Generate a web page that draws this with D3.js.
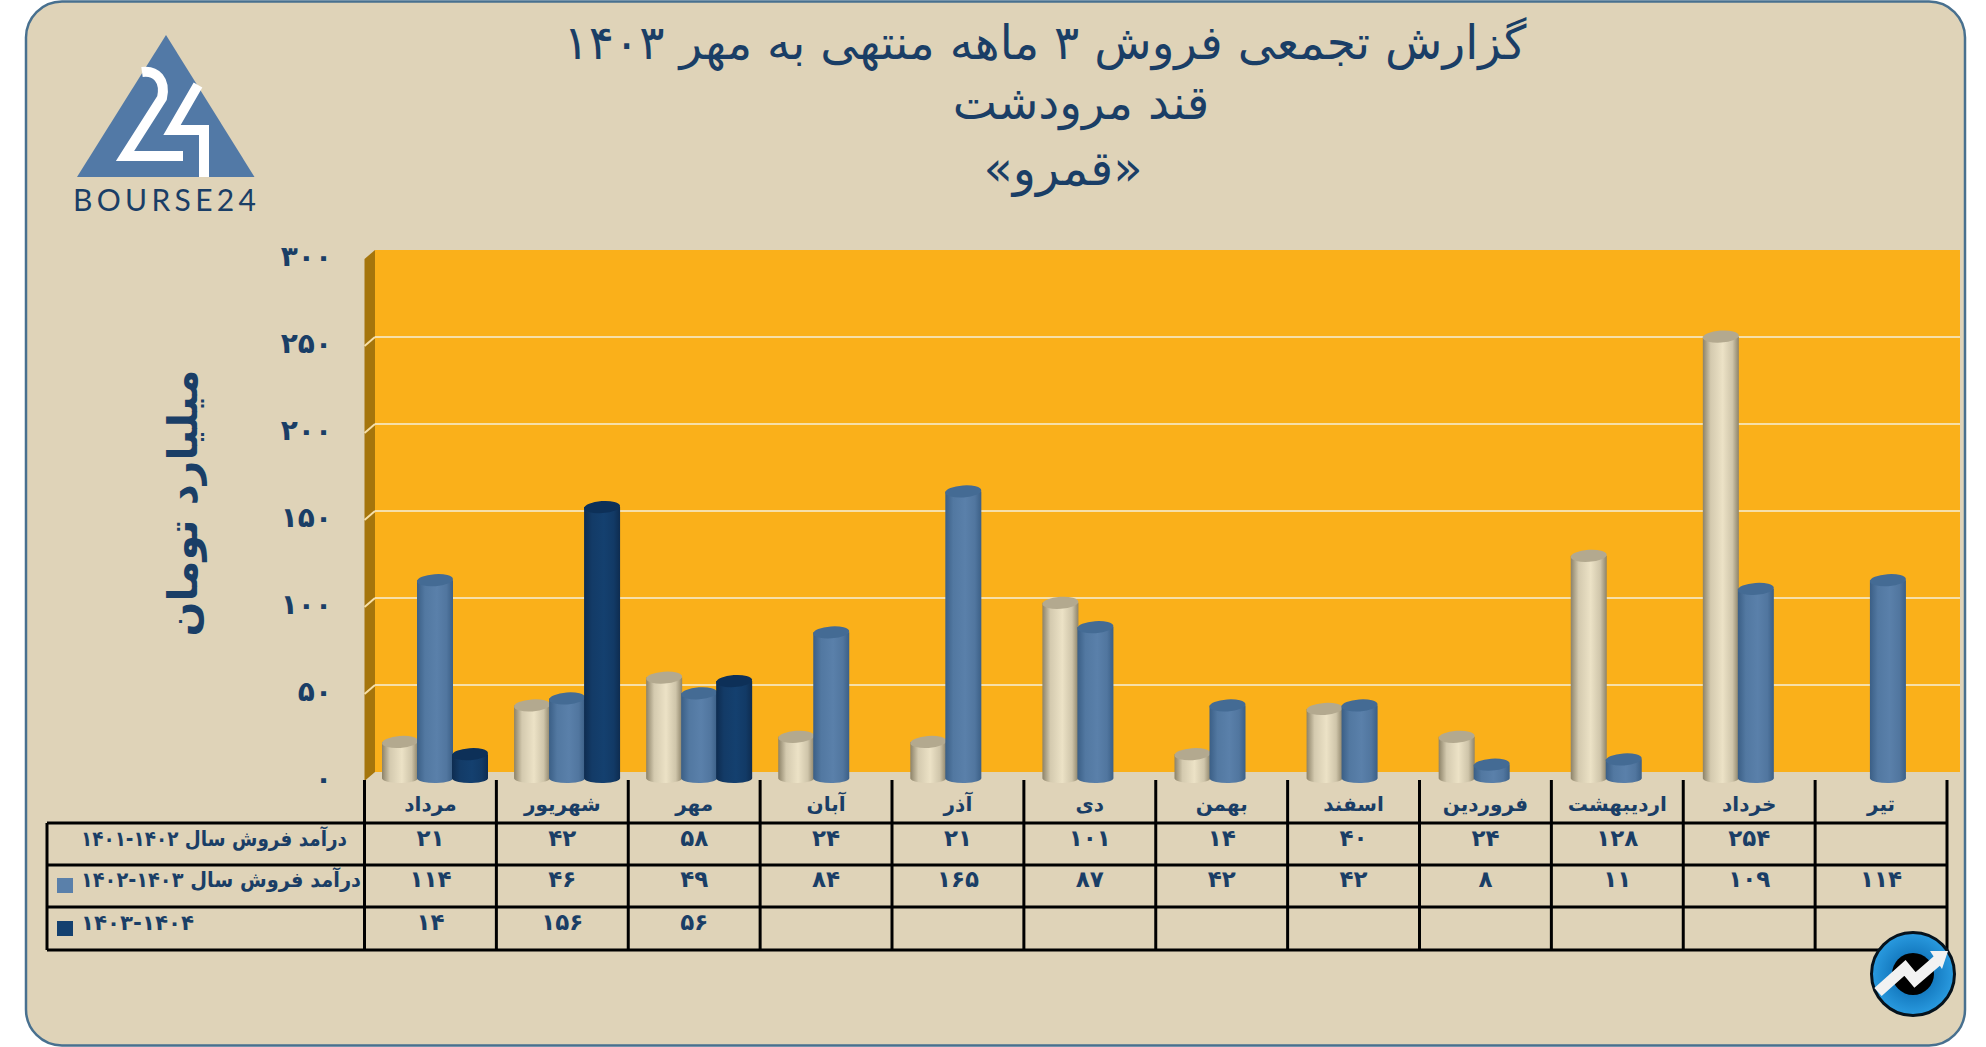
<!DOCTYPE html>
<html lang="fa">
<head>
<meta charset="utf-8">
<title>قمرو</title>
<script src="https://cdn.jsdelivr.net/npm/d3@7"></script>
<style>
  html, body { margin: 0; padding: 0; background: #fff; }
  svg { display: block; }
  text { font-family: "DejaVu Sans", sans-serif; fill: #1a3e66; }
  .fa { direction: rtl; unicode-bidi: plaintext; }
</style>
</head>
<body>
<svg id="chart" width="1986" height="1047"></svg>
<script>
// data
var months = ["مرداد", "شهریور", "مهر", "آبان", "آذر", "دی", "بهمن", "اسفند", "فروردین", "اردیبهشت", "خرداد", "تیر"];
var sales1401 = [21, 42, 58, 24, 21, 101, 14, 40, 24, 128, 254, null];
var sales1402 = [114, 46, 49, 84, 165, 87, 42, 42, 8, 11, 109, 114];
var sales1403 = [14, 156, 56, null, null, null, null, null, null, null, null, null];
// the isolates keep the year range reading left to right after persian words
var rowLabels = ["درآمد فروش سال \u2066۱۴۰۱-۱۴۰۲\u2069", "درآمد فروش سال \u2066۱۴۰۲-۱۴۰۳\u2069", "\u2066۱۴۰۳-۱۴۰۴\u2069"];
var yTicks = [0, 50, 100, 150, 200, 250, 300];
var titleLines = ["گزارش تجمعی فروش ۳ ماهه منتهی به مهر ۱۴۰۳", "قند مرودشت", "«قمرو»"];
var yTitle = "میلیارد تومان";

var series = [sales1401, sales1402, sales1403];
var seriesColors = [
  { edge: "#8c8268", mid: "#ece2c6", top: "#b3a98f" },
  { edge: "#3b5f86", mid: "#5a80aa", top: "#446b94" },
  { edge: "#0e2c50", mid: "#14406f", top: "#0d3058" }
];

function toFa(n) {
  return String(n).replace(/\d/g, function (d) { return "۰۱۲۳۴۵۶۷۸۹"[d]; });
}

var svg = d3.select("#chart");
var defs = svg.append("defs");

seriesColors.forEach(function (c, i) {
  var g = defs.append("linearGradient").attr("id", "cyl" + i);
  g.append("stop").attr("offset", "0%").attr("stop-color", c.edge);
  g.append("stop").attr("offset", "22%").attr("stop-color", d3.interpolateRgb(c.edge, c.mid)(0.75));
  g.append("stop").attr("offset", "55%").attr("stop-color", c.mid);
  g.append("stop").attr("offset", "82%").attr("stop-color", d3.interpolateRgb(c.edge, c.mid)(0.7));
  g.append("stop").attr("offset", "100%").attr("stop-color", c.edge);
});

var badge = defs.append("radialGradient").attr("id", "badge");
badge.append("stop").attr("offset", "30%").attr("stop-color", "#0d6fb5");
badge.append("stop").attr("offset", "100%").attr("stop-color", "#2a9be0");

// panel
svg.append("rect").attr("x", 26).attr("y", 1.5).attr("width", 1939).attr("height", 1044)
  .attr("rx", 36).attr("ry", 36)
  .attr("fill", "#dfd3b8").attr("stroke", "#48708f").attr("stroke-width", 2.5);

// scales, tableLeft is the start of the row header column
var tableLeft = 47, plotLeft = 364.5, plotRight = 1947, wallRight = 1960;
var x = d3.scaleBand().domain(months).range([plotLeft, plotRight]);
var xBars = d3.scaleBand().domain(months).range([plotLeft, plotRight + 2.5]); // bars drift a little from the table
var xSub = d3.scaleBand().domain([0, 1, 2]).range([18, 123]);
var y = d3.scaleLinear().domain([0, 300]).range([778.5, 256.5]);
var backShift = -6.5, sideDx = 10.5, sideDy = 9;

// back wall and side wall
var wall = svg.append("g").attr("class", "wall");
wall.append("rect")
  .attr("x", plotLeft + sideDx).attr("y", y(300) + backShift)
  .attr("width", wallRight - plotLeft - sideDx).attr("height", y(0) - y(300))
  .attr("fill", "#fab01a");
wall.append("path")
  .attr("d", d3.line()([
    [plotLeft + sideDx, y(300) + backShift],
    [plotLeft + sideDx, y(0) + backShift],
    [plotLeft, y(0) + backShift + sideDy],
    [plotLeft, y(300) + backShift + sideDy]
  ]) + "Z")
  .attr("fill", "#a5750c");

var gridVals = yTicks.filter(function (t) { return t > 0 && t < 300; });
wall.selectAll("line.grid").data(gridVals).enter().append("line")
  .attr("class", "grid")
  .attr("x1", plotLeft + sideDx).attr("x2", wallRight)
  .attr("y1", function (d) { return y(d) + backShift; })
  .attr("y2", function (d) { return y(d) + backShift; })
  .attr("stroke", "#f6dfa9").attr("stroke-width", 2);
wall.selectAll("line.side").data(gridVals).enter().append("line")
  .attr("class", "side")
  .attr("x1", plotLeft + sideDx).attr("x2", plotLeft)
  .attr("y1", function (d) { return y(d) + backShift; })
  .attr("y2", function (d) { return y(d) + backShift + sideDy; })
  .attr("stroke", "#f6dfa9").attr("stroke-width", 2);

// y axis, labels only
var yAxis = svg.append("g")
  .attr("transform", "translate(332,0)")
  .call(d3.axisLeft(y).tickValues(yTicks).tickSize(0).tickPadding(0).tickFormat(toFa));
yAxis.select(".domain").remove();
yAxis.selectAll("text")
  .style("font-size", "28px").style("font-weight", "bold")
  .style("font-family", '"DejaVu Sans", sans-serif')
  .style("letter-spacing", "1px")
  .attr("fill", "#1a3e66");

// cylinders
var rx = xSub.bandwidth() / 2 + 0.5, ry = 7;
function body(d) {
  var x0 = xBars(d.month) + xSub(d.s) - 0.5, x1 = x0 + rx * 2;
  return "M" + x0 + "," + y(d.value) + "L" + x0 + "," + y(0) +
    "A" + rx + "," + (ry - 2) + " 0 0 0 " + x1 + "," + (y(0) - 1) +
    "L" + x1 + "," + y(d.value) + "Z";
}
series.forEach(function (vals, s) {
  var rows = [];
  vals.forEach(function (v, i) {
    if (v !== null) rows.push({ month: months[i], value: v, s: s });
  });
  var bars = svg.append("g").attr("class", "series" + s)
    .selectAll("g").data(rows).enter().append("g");
  bars.append("path").attr("d", body).attr("fill", "url(#cyl" + s + ")");
  bars.append("ellipse")
    .attr("cx", function (d) { return xBars(d.month) + xSub(d.s) + rx - 0.5; })
    .attr("cy", function (d) { return y(d.value); })
    .attr("rx", rx).attr("ry", ry - 1)
    .attr("transform", function (d) {
      return "rotate(-4 " + (xBars(d.month) + xSub(d.s) + rx) + " " + y(d.value) + ")";
    })
    .attr("fill", seriesColors[s].top);
});

// table
var rowY = [823, 865, 907, 950];
var table = svg.append("g").attr("stroke", "#000").attr("stroke-width", 3);
table.selectAll("line.row").data(rowY).enter().append("line").attr("class", "row")
  .attr("x1", tableLeft).attr("x2", plotRight)
  .attr("y1", function (d) { return d; }).attr("y2", function (d) { return d; });
table.selectAll("line.col").data(months.concat(["end"])).enter().append("line").attr("class", "col")
  .attr("x1", function (d) { return d === "end" ? plotRight : x(d); })
  .attr("x2", function (d) { return d === "end" ? plotRight : x(d); })
  .attr("y1", 780).attr("y2", 950);
table.append("line").attr("x1", tableLeft).attr("x2", tableLeft).attr("y1", 823).attr("y2", 950);

svg.selectAll("text.month").data(months).enter().append("text")
  .attr("class", "month fa")
  .attr("x", function (d) { return x(d) + x.bandwidth() / 2; })
  .attr("y", 811)
  .attr("text-anchor", "middle")
  .style("font-size", "20px").style("font-weight", "bold")
  .text(function (d) { return d; });

var rowBase = [846, 887, 930];
series.forEach(function (vals, s) {
  svg.selectAll("text.val" + s).data(vals).enter().append("text")
    .attr("class", "val" + s + " fa")
    .attr("x", function (d, i) { return x(months[i]) + x.bandwidth() / 2; })
    .attr("y", rowBase[s])
    .attr("text-anchor", "middle")
    .style("font-size", "23px").style("font-weight", "bold")
    .text(function (d) { return d === null ? "" : toFa(d); });
});

// row headers with legend swatches
svg.selectAll("text.rowlabel").data(rowLabels).enter().append("text")
  .attr("class", "rowlabel fa")
  .attr("x", 81)
  .attr("y", function (d, i) { return rowBase[i]; })
  .attr("text-anchor", "end")
  .attr("textLength", function (d, i) { return [266, 280, 113][i]; })
  .attr("lengthAdjust", "spacingAndGlyphs")
  .style("font-size", "21px").style("font-weight", "bold")
  .text(function (d) { return d; });
svg.selectAll("rect.swatch").data([1, 2]).enter().append("rect")
  .attr("class", "swatch")
  .attr("x", 57).attr("width", 16).attr("height", 15)
  .attr("y", function (d) { return [878, 921][d - 1]; })
  .attr("fill", function (d) { return seriesColors[d].mid; });

// titles
svg.selectAll("text.title").data(titleLines).enter().append("text")
  .attr("class", "title fa")
  .attr("x", function (d, i) { return [1045, 1081, 1063][i]; })
  .attr("y", function (d, i) { return [59, 119, 185][i]; })
  .attr("text-anchor", "middle")
  .style("font-size", function (d, i) { return [47, 47, 48][i] + "px"; })
  .text(function (d) { return d; });

svg.append("text").attr("class", "fa")
  .attr("transform", "translate(197,503) rotate(-90)")
  .attr("text-anchor", "middle")
  .style("font-size", "41px").style("font-weight", "bold")
  .text(yTitle);

// bourse24 logo
var logo = svg.append("g");
logo.append("path").attr("d", "M166,35L254.5,177H77Z").attr("fill", "#5279a6");
logo.append("path")
  .attr("d", "M142,72C156,70 166,80 162,98L125,156H183")
  .attr("fill", "none").attr("stroke", "#fff").attr("stroke-width", 10);
logo.append("path")
  .attr("d", "M198,85L172,130H204V177")
  .attr("fill", "none").attr("stroke", "#fff").attr("stroke-width", 10);
logo.append("text").attr("x", 73).attr("y", 211)
  .attr("textLength", 183)
  .style("font-family", "Lato, sans-serif").style("font-size", "30px")
  .text("BOURSE24");

// badge in the corner
var corner = svg.append("g");
corner.append("circle").attr("cx", 1913).attr("cy", 974).attr("r", 41.5)
  .attr("fill", "url(#badge)").attr("stroke", "#06121c").attr("stroke-width", 3);
corner.append("circle").attr("cx", 1913).attr("cy", 974).attr("r", 21).attr("fill", "#000");
corner.append("path")
  .attr("d", "M1878,992L1905,968L1915,980L1938,960")
  .attr("fill", "none").attr("stroke", "#f2f2f2").attr("stroke-width", 11);
corner.append("path").attr("d", "M1930,951L1948,951L1942,969Z").attr("fill", "#f2f2f2");
</script>
</body>
</html>
